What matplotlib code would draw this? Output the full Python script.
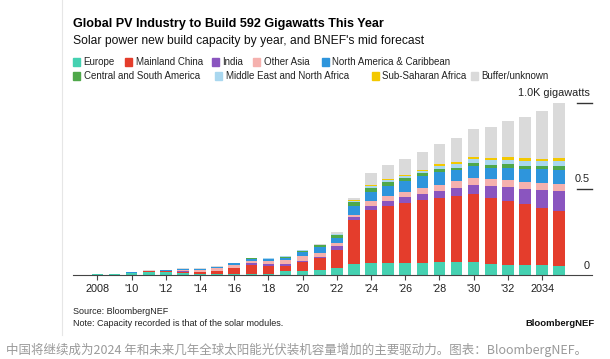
import numpy as np
import matplotlib
matplotlib.use("Agg")
import matplotlib.pyplot as plt
from matplotlib.patches import Rectangle
from matplotlib.lines import Line2D

# Données (GW par an, 2007-2035)
years = list(range(2007, 2036))

europe = [2, 5, 6, 13, 19, 17, 10, 7, 8, 7, 6, 8, 22, 23, 29, 42,
          64, 68, 68, 70, 71, 73, 75, 77, 64, 60, 58, 58, 54]
china = [0, 0, 0.5, 0.5, 2, 4, 10, 11, 16, 32, 52, 44, 30, 52, 68, 103,
         258, 308, 332, 345, 363, 375, 382, 394, 384, 372, 353, 332, 317]
india = [0, 0, 0, 0, 0.5, 1, 1, 1, 2, 4, 10, 12, 10, 8, 9, 21,
         12, 27, 27, 37, 39, 38, 49, 54, 67, 78, 87, 102, 115]
other_asia = [0.3, 0.5, 1, 1, 2, 3, 9, 10, 12, 13, 13, 15, 23, 25, 19, 17,
              13, 27, 30, 31, 33, 39, 40, 37, 41, 40, 42, 43, 45]
north_america = [0.3, 0.5, 0.5, 1, 2, 4, 6, 7, 8, 12, 14, 13, 15, 25, 35, 31,
                 56, 53, 60, 61, 67, 72, 64, 69, 65, 73, 78, 81, 77]
central_south_america = [0, 0, 0, 0, 0, 0, 0.5, 1, 1, 1, 1, 3, 5, 7, 12, 18,
                         20, 23, 21, 18, 18, 19, 13, 17, 20, 20, 17, 17, 23]
mena = [0, 0, 0, 0, 0, 0, 0.3, 0.5, 1, 1, 1, 2, 3, 3, 4, 5,
        9, 9, 12, 11, 13, 18, 22, 28, 25, 27, 29, 27, 29]
sub_saharan = [0, 0, 0, 0, 0, 0, 0, 0, 0.3, 0.3, 0.3, 0.5, 0.5, 0.5, 1, 3,
               6, 8, 8, 8, 8, 8, 11, 11, 13, 13, 13, 16, 17]
buffer_unknown = [0.2, 0.5, 0.5, 0.5, 1, 1, 2, 1.5, 3.5, 0.5, 1.5, 1.5, 3.5, 2, 3, 9,
                  6, 69, 83, 91, 100, 117, 139, 160, 180, 209, 242, 277, 319]

series = [
    ("Europe", europe, "#45d1b1"),
    ("Mainland China", china, "#e43d2c"),
    ("India", india, "#8a55bf"),
    ("Other Asia", other_asia, "#f5b1ae"),
    ("North America & Caribbean", north_america, "#2e95dc"),
    ("Central and South America", central_south_america, "#4fa84a"),
    ("Middle East and North Africa", mena, "#a9d7ef"),
    ("Sub-Saharan Africa", sub_saharan, "#f3c800"),
    ("Buffer/unknown", buffer_unknown, "#dadada"),
]

tick_years = list(range(2008, 2035, 2))
tick_labels = ["2008"] + ["'" + str(y)[2:] for y in tick_years[1:-1]] + ["2034"]

W, H = 610, 359
plt.rcParams['font.family'] = ['Liberation Sans', 'DejaVu Sans']
fig = plt.figure(figsize=(W / 100, H / 100), dpi=100)


def px(x, y):
    return x / W, 1 - y / H


# Axes : x de 73 à 592 px, y=0 à 275 px, y=1000 à 102.7 px
ax = fig.add_axes([73 / W, 1 - 275 / H, (592 - 73) / W, (275 - 102.7) / H])
ax.set_xlim(2006.57, 2036.92)
ax.set_ylim(0, 1000)

bottom = np.zeros(len(years))
for name, vals, color in series:
    vals = np.array(vals, dtype=float)
    ax.bar(years, vals, bottom=bottom, width=0.68, color=color,
           linewidth=0, clip_on=False)
    bottom += vals

for s in ["top", "right", "left"]:
    ax.spines[s].set_visible(False)
ax.spines["bottom"].set_color("#444444")
ax.spines["bottom"].set_linewidth(0.8)
ax.set_yticks([])
ax.set_xticks(tick_years)
ax.set_xticklabels(tick_labels, fontsize=7.8, color="#222222")
ax.tick_params(axis="x", length=3.5, width=0.8, color="#444444", pad=3)

# Graduations à droite
for v, lab in [(0, "0"), (500, "0.5"), (1000, "1.0K gigawatts")]:
    if v > 0:
        ax.add_line(Line2D([2036.05, 2036.92], [v, v], color="#333333",
                           lw=1.0, clip_on=False))
    ax.text(2036.8, v + 55, lab, ha="right", va="center", fontsize=7.8,
            color="#222222")

# Titre et sous-titre
fig.text(*px(73, 24), "Global PV Industry to Build 592 Gigawatts This Year",
         fontsize=9.1, fontweight="bold", va="center", ha="left", color="#000000")
fig.text(*px(73, 41), "Solar power new build capacity by year, and BNEF's mid forecast",
         fontsize=8.75, va="center", ha="left", color="#111111")

# Légende manuelle
legend_pos = [(73, 62), (125, 62), (212, 62), (253, 62), (322, 62),
              (73, 76), (215, 76), (372, 76), (471, 76)]
for (name, vals, color), (lx, ly) in zip(series, legend_pos):
    fig.patches.append(Rectangle(px(lx, ly + 3.5), 7 / W, 7 / H, color=color,
                                 transform=fig.transFigure, figure=fig))
    fig.text(*px(lx + 10.5, ly), name, fontsize=7, va="center", ha="left",
             color="#222222")

# Sources
fig.text(*px(73, 312), "Source: BloombergNEF", fontsize=6.5, va="center",
         color="#222222")
fig.text(*px(73, 323), "Note: Capacity recorded is that of the solar modules.",
         fontsize=6.5, va="center", color="#222222")
fig.text(*px(595, 323), "BloombergNEF", fontsize=6.8, fontweight="bold",
         va="center", ha="right", color="#111111")

# Bordure gauche de l'image
fig.add_artist(Line2D([62 / W, 62 / W], [1 - 335 / H, 1], color="#e6e6e6",
                      lw=0.8, transform=fig.transFigure))

# Légende en chinois sous l'image
fig.text(*px(6, 350),
         "中国将继续成为2024 年和未来几年全球太阳能光伏装机容量增加的主要驱动力。图表：BloombergNEF。",
         fontsize=9, va="center", ha="left", color="#9a9a9a",
         family=["Noto Sans CJK SC", "DejaVu Sans"])

fig.savefig("out.png", dpi=100)
